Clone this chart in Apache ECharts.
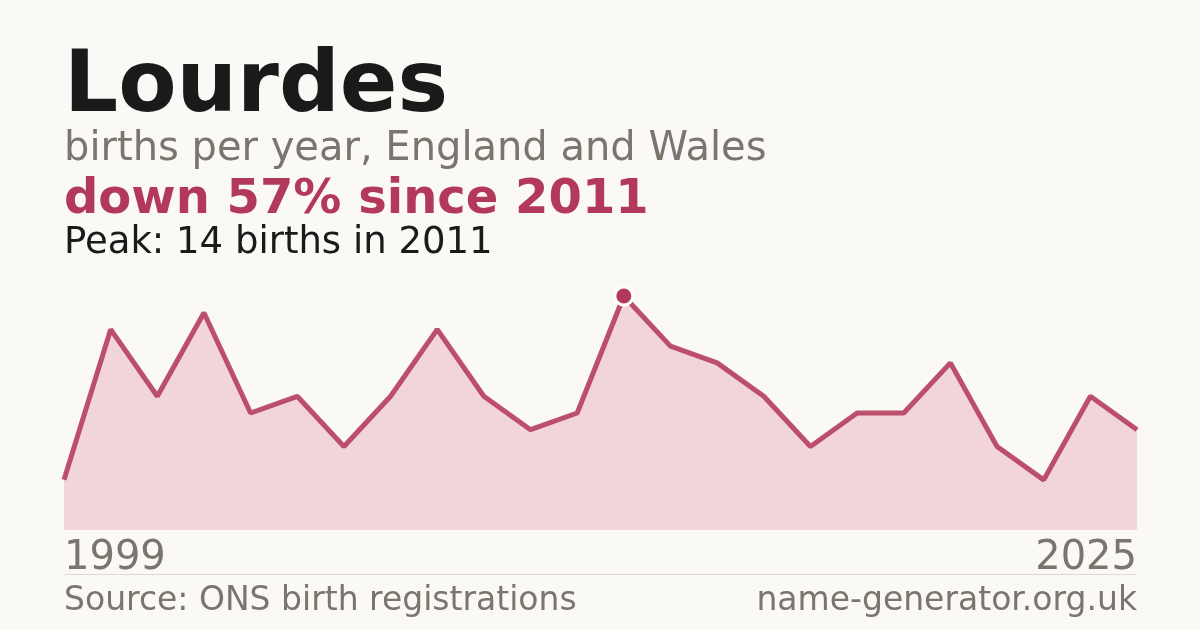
<!DOCTYPE html>
<html>
<head>
<meta charset="utf-8">
<script src="https://cdn.jsdelivr.net/npm/echarts@6/dist/echarts.min.js"></script>
<style>
html,body{margin:0;padding:0;background:#faf9f5;}
#c{width:1200px;height:630px;}
</style>
</head>
<body>
<div id="c"></div>
<script>
const years = ['1999','2000','2001','2002','2003','2004','2005','2006','2007','2008','2009','2010','2011',
  '2012','2013','2015','2016','2017','2018','2020','2021','2023','2024','2025'];
const births = [3,12,8,13,7,8,5,8,12,8,6,7,14,11,10,8,5,7,7,10,5,3,8,6];
const peakYear = '2011';
const titleText = 'Lourdes';
const subtitleText = 'births per year, England and Wales';
const changeText = 'down 57% since 2011';
const peakText = 'Peak: 14 births in 2011';
const sourceText = 'Source: ONS birth registrations';
const siteText = 'name-generator.org.uk';

const CRIMSON = '#b3395a';
const GRAY = '#7a756d';
const FONT = 'DejaVu Sans';

const seriesData = births.map((v, i) => years[i] === peakYear
  ? {value: v, symbol: 'circle', symbolSize: 18, itemStyle: {color: CRIMSON, borderColor: '#ffffff', borderWidth: 3}}
  : {value: v});

const chart = echarts.init(document.getElementById('c'), null, {renderer: 'canvas'});
chart.setOption({
  backgroundColor: '#faf9f5',
  animation: false,
  grid: {left: 64, right: 63, top: 296, bottom: 100, containLabel: false},
  xAxis: {
    type: 'category',
    data: years,
    boundaryGap: false,
    axisLine: {show: false},
    axisTick: {show: false},
    splitLine: {show: false},
    axisLabel: {
      interval: (idx) => idx === 0 || idx === years.length - 1,
      fontFamily: FONT, fontSize: 40, color: GRAY, lineHeight: 40,
      margin: 9,
      alignMinLabel: 'left', alignMaxLabel: 'right',
      verticalAlign: 'top'
    }
  },
  yAxis: {
    type: 'value', min: 0, max: 14,
    show: false,
    splitLine: {show: false}
  },
  series: [{
    type: 'line',
    data: seriesData,
    symbol: 'none',
    showSymbol: true,
    lineStyle: {color: CRIMSON, width: 5, opacity: 0.88},
    areaStyle: {color: '#f2d5db', opacity: 1},
    itemStyle: {color: CRIMSON},
    z: 3
  }],
  graphic: [
    {type: 'text', left: 64, top: 46, style: {text: titleText, fontFamily: FONT, fontSize: 85, fontWeight: 'bold', fill: '#1a1a1a', lineHeight: 85}},
    {type: 'text', left: 64, top: 130, style: {text: subtitleText, fontFamily: FONT, fontSize: 40, fill: GRAY, lineHeight: 40}},
    {type: 'text', left: 64, top: 177, style: {text: changeText, fontFamily: FONT, fontSize: 48, fontWeight: 'bold', fill: CRIMSON, lineHeight: 48}},
    {type: 'text', left: 64, top: 225, style: {text: peakText, fontFamily: FONT, fontSize: 37, fill: '#1a1a1a', lineHeight: 37}},
    {type: 'line', shape: {x1: 64, y1: 574.5, x2: 1137, y2: 574.5}, style: {stroke: '#dddad2', lineWidth: 1}},
    {type: 'text', left: 64, top: 585, style: {text: sourceText, fontFamily: FONT, fontSize: 33, fill: GRAY, lineHeight: 33}},
    {type: 'text', right: 63, top: 585, style: {text: siteText, fontFamily: FONT, fontSize: 33, fill: GRAY, lineHeight: 33, align: 'right'}}
  ]
});
</script>
</body>
</html>
